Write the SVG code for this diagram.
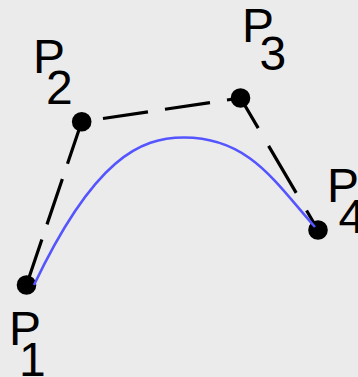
<svg xmlns="http://www.w3.org/2000/svg" width="358" height="377" viewBox="0 0 358 377">
<style>
.lbl{font-family:"Liberation Sans",Arial,sans-serif;font-size:48px;fill:#000}
.dot{fill:#000}
.dash{fill:none;stroke:#000;stroke-width:3.2}
.curve{fill:none;stroke:#5555ff;stroke-width:2.6}
</style>
<rect width="358" height="377" fill="#ebebeb"/>
<g id="p1">
<circle class="dot" cx="26.5" cy="285" r="9.8"/>
<text class="lbl" x="9" y="345">P</text>
<text class="lbl" x="19" y="376">1</text>
</g>
<g id="p2">
<circle class="dot" cx="81.7" cy="121.7" r="9.8"/>
<text class="lbl" x="33" y="73">P</text>
<text class="lbl" x="46" y="104">2</text>
</g>
<g id="p3">
<circle class="dot" cx="240.5" cy="98" r="9.8"/>
<text class="lbl" x="242" y="42">P</text>
<text class="lbl" x="259.5" y="70">3</text>
</g>
<g id="p4">
<circle class="dot" cx="318" cy="230" r="9.8"/>
<text class="lbl" x="327" y="202">P</text>
<text class="lbl" x="338.5" y="233">4</text>
</g>
<g id="connectors">
<line class="dash" x1="26.5" y1="285" x2="81.7" y2="121.7" stroke-dasharray="48 16"/>
<line class="dash" x1="81.7" y1="121.7" x2="240.5" y2="98" stroke-dasharray="45.5 17.2" stroke-dashoffset="41.2"/>
<line class="dash" x1="240.5" y1="98" x2="318" y2="230" stroke-dasharray="54.5 20.5" stroke-dashoffset="19.5"/>
<path class="curve" d="M34,285 C94,159 140,137.5 184,137.5 C249,137.5 275,182 315,227"/>
</g>
</svg>
